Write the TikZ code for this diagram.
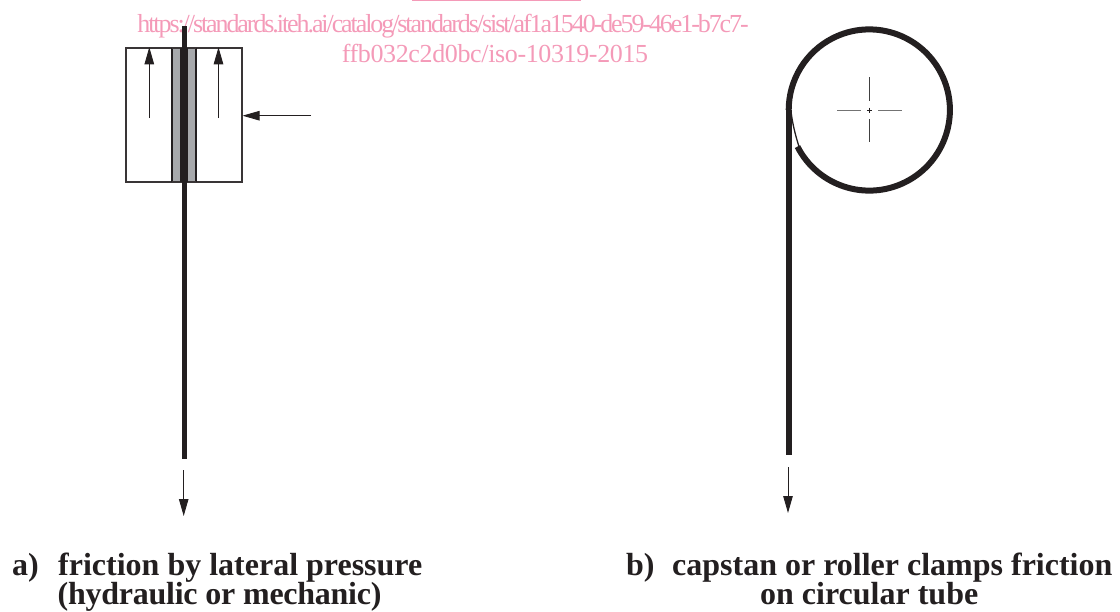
\documentclass[tikz,border=0pt]{standalone}
\usepackage{fontspec}
\setmainfont{Liberation Serif}
\usetikzlibrary{arrows.meta,positioning}
\definecolor{markpink}{HTML}{F49AB8}
\definecolor{ropeblack}{HTML}{231F20}
\definecolor{padgray}{HTML}{A7A9AC}

\begin{document}
\begin{tikzpicture}[
  x=1pt,y=-1pt,
  link/.style={font=\fontsize{26}{28}\selectfont,text=markpink,inner sep=0pt,anchor=base},
  caption/.style={font=\fontsize{32}{34}\selectfont\bfseries,text=ropeblack,inner sep=0pt,anchor=base west},
  rope/.style={line width=5pt,draw=ropeblack},
  wall/.style={line width=1.5pt,draw=ropeblack!90},
  force/.style={line width=0.9pt,draw=ropeblack,-{Triangle[length=17pt,width=9.5pt]}},
  axis/.style={line width=0.9pt,draw=black!55}
]
  \useasboundingbox (0,0) rectangle (1120,611);

  % watermark
  \draw[line width=1.5pt,markpink] (412,0.5) -- (581,0.5);
  \node[link] (url1) at (443,32) {\addfontfeature{LetterSpace=-8}https://standards.iteh.ai/catalog/standards/sist/af1a1540-de59-46e1-b7c7-};
  \node[link] (url2) at (495,62) {\addfontfeature{LetterSpace=-1.4}ffb032c2d0bc/iso-10319-2015};

  % clamp a
  \node[wall,minimum width=46pt,minimum height=134pt,inner sep=0pt] (jawl) at (149.2,115) {};
  \node[wall,minimum width=45.7pt,minimum height=134pt,inner sep=0pt] (jawr) at (218.9,115) {};
  \node[fill=padgray,line width=0pt,minimum width=23.7pt,minimum height=134pt,inner sep=0pt] (pad) at (184.1,115) {};
  \draw[ropeblack,line width=2.4pt] (pad.north west) -- (pad.south west);
  \draw[ropeblack,line width=2.4pt] (pad.north east) -- (pad.south east);
  \draw[wall] (pad.north west) -- (pad.north east);
  \draw[wall] (pad.south west) -- (pad.south east);
  \draw[ropeblack,line width=7.5pt] (pad.north) -- (pad.south);
  \coordinate (ropeatop) at (184,26);
  \coordinate (ropeaend) at (184,459);
  \draw[rope] (ropeatop) -- (ropeaend);

  \coordinate (upl) at (149.3,118);
  \coordinate (upr) at (218.5,118);
  \coordinate (pushstart) at (311,115.7);
  \draw[force] (upl) -- (upl |- jawl.north);
  \draw[force] (upr) -- (upr |- jawr.north);
  \draw[force] (pushstart) -- (pushstart -| jawr.east);

  \coordinate (pulla) at (183.7,470);
  \coordinate (pullaend) at (183.7,516);
  \draw[force] (pulla) -- (pullaend);

  % capstan b
  \coordinate (hub) at (869.3,110);
  \draw[rope,line width=6pt] (hub) ++(153:80.6) arc[start angle=153,end angle=-180,radius=80.6];
  \coordinate (ropebtop) at (788.7,110);
  \coordinate (ropebend) at (788.7,455);
  \draw[rope,line width=5.6pt] (ropebtop) -- (ropebend);
  \draw[ropeblack,line width=1.3pt] (791.2,113) .. controls (792.5,123) and (795,134) .. (798.8,146);

  \coordinate (axw1) at (837,110);
  \coordinate (axw2) at (861,110);
  \coordinate (axe1) at (878,110);
  \coordinate (axe2) at (902,110);
  \coordinate (axn1) at (869.3,77);
  \coordinate (axn2) at (869.3,101);
  \coordinate (axs1) at (869.3,119);
  \coordinate (axs2) at (869.3,142);
  \draw[axis] (axw1) -- (axw2);
  \draw[axis] (axe1) -- (axe2);
  \draw[axis,draw=black!75] (axn1) -- (axn2);
  \draw[axis,draw=black!75] (axs1) -- (axs2);
  \draw[ropeblack,line width=0.7pt] (866.8,110) -- (871.8,110) (869.3,107.5) -- (869.3,112.5);

  \coordinate (pullb) at (788,467);
  \coordinate (pullbend) at (788,513);
  \draw[force] (pullb) -- (pullbend);

  % captions
  \node[caption] (capa) at (12,575) {a)};
  \node[caption] (capatext) at (58,575) {friction by lateral pressure};
  \node[caption] (capatwo) at (57.5,604) {\addfontfeature{LetterSpace=-0.8}(hydraulic or mechanic)};
  \node[caption] (capb) at (626,575) {b)};
  \node[caption] (capbtext) at (672,575) {capstan or roller clamps friction};
  \node[caption] (capbtwo) at (760,604) {on circular tube};
\end{tikzpicture}
\end{document}
